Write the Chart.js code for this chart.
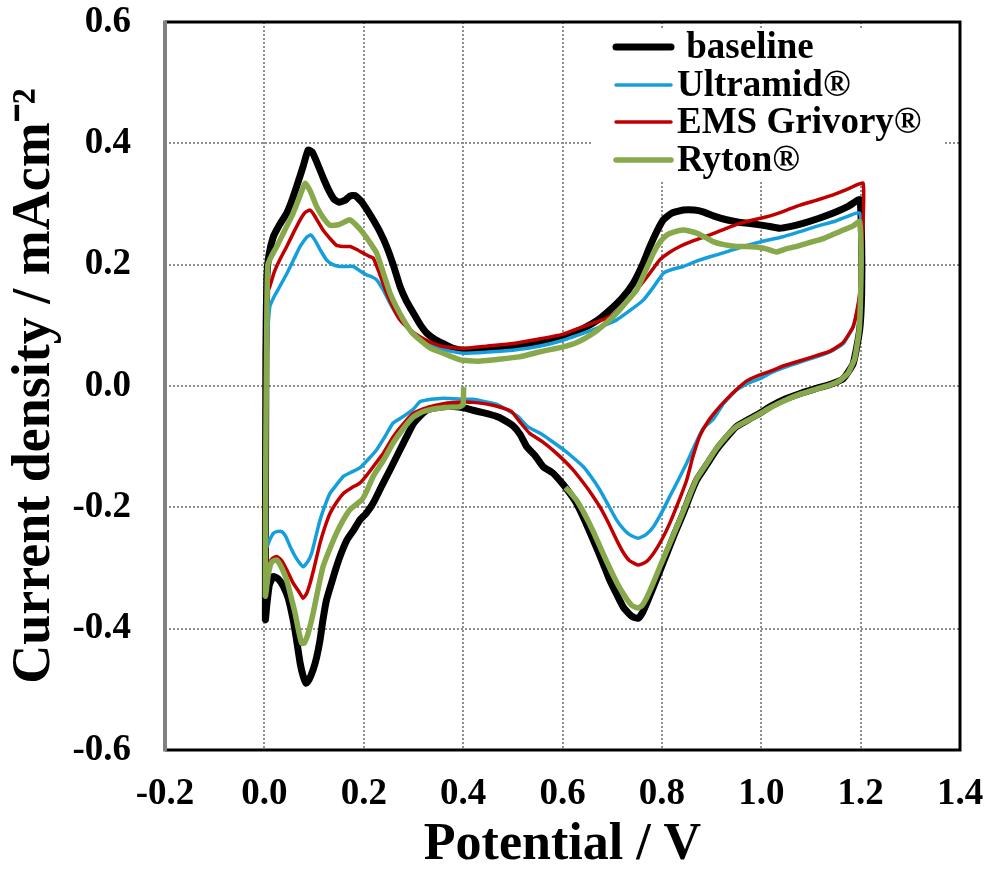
<!DOCTYPE html>
<html>
<head>
<meta charset="utf-8">
<title>Cyclic voltammograms</title>
<script src="https://cdn.jsdelivr.net/npm/chart.js@4.4.1/dist/chart.umd.min.js"></script>
<style>
    html, body { margin: 0; padding: 0; background: #fff; }
    canvas { display: block; }
</style>
</head>
<body>
<canvas id="cvChart" width="992" height="873"></canvas>
<script>
"use strict";
const xTicks = [-0.2, 0.0, 0.2, 0.4, 0.6, 0.8, 1.0, 1.2, 1.4];
const yTicks = [-0.6, -0.4, -0.2, 0.0, 0.2, 0.4, 0.6];
const seriesNames = [' baseline', 'Ultramid®', 'EMS Grivory®', 'Ryton®'];
const seriesColors = ['#000000', '#149fdc', '#c00000', '#88a84c'];

// [potential V, current density mA/cm2], scan starts at 0.4 V going negative
const baseline = [
    [0.403, -0.036], [0.380, -0.034], [0.367, -0.034], [0.345, -0.036], [0.327, -0.040], [0.313, -0.050],
    [0.300, -0.062], [0.286, -0.084], [0.270, -0.110], [0.253, -0.138], [0.236, -0.165], [0.219, -0.193],
    [0.205, -0.210], [0.192, -0.221], [0.180, -0.237], [0.166, -0.254], [0.155, -0.275], [0.145, -0.298],
    [0.135, -0.325], [0.125, -0.353], [0.118, -0.385], [0.112, -0.419], [0.105, -0.448], [0.098, -0.468],
    [0.090, -0.484], [0.084, -0.490], [0.078, -0.478], [0.072, -0.457], [0.065, -0.420], [0.058, -0.386],
    [0.048, -0.350], [0.038, -0.330], [0.028, -0.318], [0.018, -0.314], [0.010, -0.328], [0.005, -0.360],
    [0.002, -0.385], [0.003, 0.050], [0.005, 0.180], [0.009, 0.215], [0.018, 0.246], [0.030, 0.265],
    [0.045, 0.285], [0.055, 0.305], [0.065, 0.329], [0.078, 0.362], [0.088, 0.389], [0.096, 0.386],
    [0.104, 0.372], [0.112, 0.356], [0.120, 0.340], [0.130, 0.322], [0.140, 0.308], [0.150, 0.303],
    [0.162, 0.306], [0.172, 0.313], [0.182, 0.314], [0.195, 0.304], [0.207, 0.290], [0.219, 0.274],
    [0.232, 0.255], [0.246, 0.230], [0.260, 0.198], [0.273, 0.164], [0.286, 0.140], [0.300, 0.120],
    [0.313, 0.102], [0.327, 0.087], [0.345, 0.076], [0.360, 0.070], [0.380, 0.062], [0.400, 0.059],
    [0.450, 0.061], [0.500, 0.065], [0.550, 0.072], [0.600, 0.081], [0.642, 0.095], [0.670, 0.108],
    [0.695, 0.125], [0.720, 0.145], [0.742, 0.169], [0.760, 0.198], [0.776, 0.230], [0.790, 0.255],
    [0.803, 0.274], [0.820, 0.285], [0.843, 0.290], [0.865, 0.290], [0.883, 0.287], [0.905, 0.280],
    [0.930, 0.274], [0.955, 0.270], [0.977, 0.268], [1.010, 0.264], [1.037, 0.260], [1.060, 0.263],
    [1.084, 0.268], [1.115, 0.276], [1.145, 0.285], [1.175, 0.296], [1.198, 0.307], [1.202, 0.240],
    [1.202, 0.150], [1.198, 0.092], [1.185, 0.037], [1.165, 0.012], [1.140, 0.003], [1.111, -0.004],
    [1.080, -0.012], [1.044, -0.023], [1.020, -0.033], [0.997, -0.045], [0.975, -0.055], [0.950, -0.067],
    [0.930, -0.085], [0.910, -0.105], [0.890, -0.130], [0.870, -0.155], [0.856, -0.182], [0.843, -0.210],
    [0.826, -0.243], [0.810, -0.276], [0.796, -0.305], [0.783, -0.331], [0.770, -0.357], [0.760, -0.375],
    [0.752, -0.383], [0.740, -0.380], [0.730, -0.372], [0.722, -0.364], [0.710, -0.345], [0.695, -0.320],
    [0.680, -0.289], [0.662, -0.254], [0.645, -0.222], [0.628, -0.193], [0.614, -0.176], [0.601, -0.162],
    [0.580, -0.143], [0.561, -0.133], [0.545, -0.115], [0.528, -0.100], [0.515, -0.080], [0.501, -0.066],
    [0.480, -0.055], [0.467, -0.050], [0.440, -0.044], [0.420, -0.040], [0.403, -0.036]
];

const ultramid = [
    [0.403, -0.022], [0.380, -0.021], [0.360, -0.020], [0.335, -0.022], [0.313, -0.026], [0.300, -0.038],
    [0.280, -0.050], [0.259, -0.061], [0.243, -0.083], [0.226, -0.105], [0.210, -0.120], [0.192, -0.135],
    [0.175, -0.142], [0.159, -0.149], [0.145, -0.163], [0.132, -0.177], [0.122, -0.197], [0.112, -0.221],
    [0.103, -0.250], [0.095, -0.276], [0.087, -0.290], [0.078, -0.298], [0.065, -0.285], [0.052, -0.265],
    [0.043, -0.248], [0.035, -0.240], [0.025, -0.240], [0.018, -0.243], [0.010, -0.255], [0.005, -0.265],
    [0.004, -0.100], [0.005, 0.050], [0.007, 0.092], [0.011, 0.131], [0.020, 0.148], [0.031, 0.164],
    [0.045, 0.185], [0.060, 0.210], [0.072, 0.230], [0.085, 0.245], [0.093, 0.249], [0.102, 0.240],
    [0.112, 0.225], [0.125, 0.208], [0.138, 0.200], [0.152, 0.197], [0.165, 0.197], [0.179, 0.197],
    [0.192, 0.190], [0.206, 0.183], [0.216, 0.180], [0.226, 0.175], [0.240, 0.157], [0.253, 0.136],
    [0.266, 0.118], [0.280, 0.103], [0.300, 0.087], [0.327, 0.070], [0.360, 0.060], [0.400, 0.054],
    [0.450, 0.056], [0.500, 0.059], [0.550, 0.065], [0.600, 0.075], [0.642, 0.087], [0.675, 0.097],
    [0.709, 0.109], [0.740, 0.127], [0.763, 0.142], [0.783, 0.163], [0.803, 0.186], [0.820, 0.192],
    [0.843, 0.197], [0.870, 0.206], [0.897, 0.213], [0.930, 0.221], [0.964, 0.230], [1.000, 0.238],
    [1.044, 0.246], [1.080, 0.255], [1.111, 0.263], [1.150, 0.272], [1.198, 0.285], [1.202, 0.220],
    [1.200, 0.160], [1.196, 0.135], [1.185, 0.098], [1.165, 0.070], [1.140, 0.057], [1.111, 0.048],
    [1.080, 0.040], [1.044, 0.030], [1.020, 0.022], [0.997, 0.012], [0.975, 0.005], [0.950, -0.007],
    [0.924, -0.029], [0.903, -0.055], [0.883, -0.070], [0.866, -0.098], [0.850, -0.127], [0.833, -0.155],
    [0.816, -0.182], [0.800, -0.208], [0.783, -0.232], [0.768, -0.245], [0.752, -0.251], [0.735, -0.245],
    [0.722, -0.235], [0.709, -0.221], [0.692, -0.196], [0.675, -0.171], [0.658, -0.150], [0.642, -0.133],
    [0.620, -0.117], [0.602, -0.105], [0.575, -0.089], [0.555, -0.078], [0.530, -0.067], [0.510, -0.050],
    [0.490, -0.040], [0.467, -0.030], [0.440, -0.025], [0.420, -0.022], [0.403, -0.022]
];

const emsGrivory = [
    [0.403, -0.026], [0.380, -0.027], [0.360, -0.029], [0.330, -0.035], [0.300, -0.045], [0.280, -0.062],
    [0.259, -0.084], [0.240, -0.110], [0.219, -0.133], [0.205, -0.148], [0.192, -0.160], [0.175, -0.168],
    [0.159, -0.177], [0.145, -0.192], [0.132, -0.210], [0.122, -0.232], [0.112, -0.259], [0.100, -0.300],
    [0.092, -0.325], [0.085, -0.342], [0.078, -0.350], [0.068, -0.337], [0.058, -0.325], [0.045, -0.303],
    [0.035, -0.288], [0.025, -0.281], [0.015, -0.285], [0.007, -0.295], [0.004, -0.300], [0.004, -0.100],
    [0.005, 0.100], [0.008, 0.158], [0.011, 0.164], [0.020, 0.188], [0.031, 0.208], [0.045, 0.230],
    [0.060, 0.255], [0.072, 0.274], [0.082, 0.286], [0.092, 0.290], [0.100, 0.282], [0.110, 0.268],
    [0.118, 0.257], [0.130, 0.245], [0.145, 0.232], [0.158, 0.230], [0.172, 0.230], [0.186, 0.225],
    [0.199, 0.219], [0.210, 0.214], [0.219, 0.211], [0.232, 0.185], [0.246, 0.153], [0.260, 0.128],
    [0.273, 0.109], [0.293, 0.093], [0.313, 0.081], [0.335, 0.072], [0.360, 0.065], [0.400, 0.062],
    [0.450, 0.066], [0.500, 0.070], [0.550, 0.077], [0.600, 0.085], [0.642, 0.098], [0.670, 0.106],
    [0.695, 0.114], [0.720, 0.132], [0.749, 0.158], [0.775, 0.185], [0.796, 0.208], [0.815, 0.220],
    [0.836, 0.230], [0.865, 0.240], [0.897, 0.249], [0.930, 0.260], [0.957, 0.268], [0.985, 0.274],
    [1.011, 0.279], [1.045, 0.288], [1.078, 0.298], [1.110, 0.306], [1.145, 0.315], [1.175, 0.325],
    [1.205, 0.334], [1.204, 0.250], [1.200, 0.170], [1.196, 0.140], [1.185, 0.098], [1.165, 0.072],
    [1.140, 0.058], [1.111, 0.050], [1.080, 0.042], [1.044, 0.033], [1.020, 0.025], [0.990, 0.016],
    [0.970, 0.008], [0.950, -0.006], [0.930, -0.022], [0.910, -0.040], [0.893, -0.058], [0.876, -0.083],
    [0.862, -0.118], [0.850, -0.155], [0.833, -0.192], [0.816, -0.226], [0.800, -0.253], [0.783, -0.276],
    [0.768, -0.290], [0.752, -0.295], [0.735, -0.288], [0.722, -0.274], [0.709, -0.254], [0.692, -0.225],
    [0.675, -0.199], [0.660, -0.180], [0.648, -0.166], [0.620, -0.137], [0.588, -0.111], [0.560, -0.092],
    [0.534, -0.078], [0.515, -0.060], [0.497, -0.042], [0.475, -0.035], [0.450, -0.030], [0.420, -0.027],
    [0.403, -0.026]
];

// Ryton trace stops near 0.6 V on the return sweep
const ryton = [
    [0.401, -0.002], [0.400, -0.030], [0.394, -0.034], [0.370, -0.035], [0.347, -0.037], [0.320, -0.042],
    [0.300, -0.051], [0.280, -0.070], [0.259, -0.094], [0.240, -0.122], [0.219, -0.149], [0.205, -0.175],
    [0.196, -0.188], [0.185, -0.195], [0.172, -0.204], [0.158, -0.222], [0.145, -0.243], [0.132, -0.268],
    [0.118, -0.298], [0.108, -0.335], [0.098, -0.375], [0.088, -0.408], [0.080, -0.424], [0.075, -0.424],
    [0.068, -0.400], [0.062, -0.375], [0.052, -0.342], [0.045, -0.320], [0.035, -0.300], [0.025, -0.287],
    [0.015, -0.290], [0.008, -0.310], [0.002, -0.346], [0.003, -0.100], [0.005, 0.120], [0.007, 0.200],
    [0.015, 0.215], [0.025, 0.230], [0.040, 0.255], [0.058, 0.285], [0.070, 0.310], [0.082, 0.334],
    [0.092, 0.322], [0.105, 0.296], [0.118, 0.278], [0.132, 0.265], [0.150, 0.266], [0.172, 0.274],
    [0.185, 0.265], [0.199, 0.252], [0.212, 0.237], [0.226, 0.219], [0.240, 0.185], [0.253, 0.153],
    [0.266, 0.130], [0.280, 0.109], [0.295, 0.090], [0.313, 0.076], [0.335, 0.062], [0.360, 0.054],
    [0.394, 0.043], [0.430, 0.041], [0.470, 0.044], [0.513, 0.048], [0.563, 0.058], [0.600, 0.064],
    [0.630, 0.072], [0.662, 0.087], [0.685, 0.102], [0.709, 0.120], [0.730, 0.140], [0.749, 0.158],
    [0.766, 0.188], [0.783, 0.219], [0.796, 0.237], [0.810, 0.249], [0.825, 0.254], [0.843, 0.257],
    [0.857, 0.255], [0.870, 0.252], [0.885, 0.246], [0.903, 0.238], [0.925, 0.233], [0.950, 0.230],
    [0.970, 0.230], [0.990, 0.229], [1.010, 0.226], [1.030, 0.221], [1.050, 0.226], [1.071, 0.230],
    [1.100, 0.237], [1.125, 0.243], [1.145, 0.250], [1.165, 0.257], [1.185, 0.264], [1.198, 0.271],
    [1.201, 0.220], [1.200, 0.150], [1.197, 0.092], [1.188, 0.045], [1.175, 0.022], [1.160, 0.010],
    [1.140, 0.002], [1.111, -0.005], [1.080, -0.013], [1.044, -0.025], [1.020, -0.035], [0.997, -0.046],
    [0.975, -0.056], [0.950, -0.067], [0.930, -0.083], [0.910, -0.103], [0.890, -0.128], [0.870, -0.153],
    [0.856, -0.180], [0.843, -0.207], [0.826, -0.240], [0.810, -0.271], [0.796, -0.298], [0.783, -0.324],
    [0.770, -0.348], [0.760, -0.362], [0.752, -0.366], [0.740, -0.362], [0.730, -0.352], [0.722, -0.342],
    [0.710, -0.325], [0.695, -0.300], [0.680, -0.273], [0.662, -0.240], [0.645, -0.212], [0.628, -0.188],
    [0.615, -0.175], [0.606, -0.167]
];

const seriesData = [baseline, ultramid, emsGrivory, ryton];
const seriesWidths = [7, 3.5, 3.5, 5.5];
const fontFamily = '"Liberation Serif", "Times New Roman", serif';

function toPoints(pairs) {
    return pairs.map(p => ({ x: p[0], y: p[1] }));
}

// legend box in the upper right of the plot, plus the heavy frame
const cvDecor = {
    id: 'cvDecor',
    afterDatasetsDraw(chart) {
        const ctx = chart.ctx;
        const rowY = [47, 85, 122, 160];
        ctx.save();
        ctx.fillStyle = '#ffffff';
        ctx.fillRect(593, 29, 350, 152);
        ctx.font = 'bold 37px ' + fontFamily;
        ctx.textBaseline = 'middle';
        ctx.textAlign = 'left';
        chart.data.datasets.forEach((ds, i) => {
            ctx.strokeStyle = ds.borderColor;
            ctx.lineWidth = ds.borderWidth;
            ctx.lineCap = 'round';
            ctx.beginPath();
            ctx.moveTo(616, rowY[i]);
            ctx.lineTo(671, rowY[i]);
            ctx.stroke();
            ctx.fillStyle = '#000000';
            ctx.fillText(ds.label, 677, rowY[i] + 1);
        });
        ctx.restore();
    },
    afterDraw(chart) {
        const ctx = chart.ctx;
        const a = chart.chartArea;
        ctx.save();
        ctx.strokeStyle = '#000000';
        ctx.lineWidth = 3;
        ctx.beginPath();
        ctx.moveTo(a.left, a.top);
        ctx.lineTo(a.right, a.top);
        ctx.lineTo(a.right, a.bottom);
        ctx.lineTo(a.left, a.bottom);
        ctx.stroke();
        ctx.strokeStyle = '#808080';
        ctx.lineWidth = 4;
        ctx.beginPath();
        ctx.moveTo(a.left, a.top - 1.5);
        ctx.lineTo(a.left, a.bottom + 1.5);
        ctx.stroke();
        ctx.restore();
    }
};

const datasets = seriesData.map((pairs, i) => ({
    label: seriesNames[i],
    data: toPoints(pairs),
    showLine: true,
    borderColor: seriesColors[i],
    backgroundColor: seriesColors[i],
    borderWidth: seriesWidths[i],
    pointRadius: 0,
    fill: false,
    tension: 0.15,
    order: seriesData.length - i
}));

const tickFont = { family: fontFamily, size: 37, weight: 'bold' };
const gridOpts = { color: '#8f8f8f', lineWidth: 2, drawTicks: false };

new Chart(document.getElementById('cvChart'), {
    type: 'scatter',
    data: { datasets: datasets },
    options: {
        responsive: false,
        animation: false,
        layout: { padding: { top: 22, right: 32, bottom: 0, left: 0 }, autoPadding: false },
        plugins: { legend: { display: false }, tooltip: { enabled: false } },
        scales: {
            x: {
                type: 'linear',
                min: xTicks[0],
                max: xTicks[xTicks.length - 1],
                afterBuildTicks: axis => { axis.ticks = xTicks.map(v => ({ value: v })); },
                afterFit: axis => {
                    axis.height = 123;
                    axis.paddingLeft = 0;
                    axis.paddingRight = 0;
                },
                ticks: { callback: v => v.toFixed(1), font: tickFont, color: '#000', padding: 22, maxRotation: 0, autoSkip: false },
                grid: gridOpts,
                border: { display: false, dash: [2, 2] },
                title: {
                    display: true,
                    text: 'Potential / V',
                    color: '#000',
                    font: { family: fontFamily, size: 52, weight: 'bold', lineHeight: 1 },
                    padding: { top: 0, bottom: 1 }
                }
            },
            y: {
                type: 'linear',
                min: yTicks[0],
                max: yTicks[yTicks.length - 1],
                afterBuildTicks: axis => { axis.ticks = yTicks.map(v => ({ value: v })); },
                afterFit: axis => {
                    axis.width = 165;
                    axis.paddingTop = 0;
                    axis.paddingBottom = 0;
                },
                ticks: { callback: v => v.toFixed(1), font: tickFont, color: '#000', padding: 34, autoSkip: false },
                grid: gridOpts,
                border: { display: false, dash: [2, 2] },
                title: {
                    display: true,
                    text: 'Current density / mAcm⁻²',
                    color: '#000',
                    font: { family: fontFamily, size: 54, weight: 'bold', lineHeight: 1 },
                    padding: { top: 8, bottom: 0 }
                }
            }
        }
    },
    plugins: [cvDecor]
});
</script>
</body>
</html>
